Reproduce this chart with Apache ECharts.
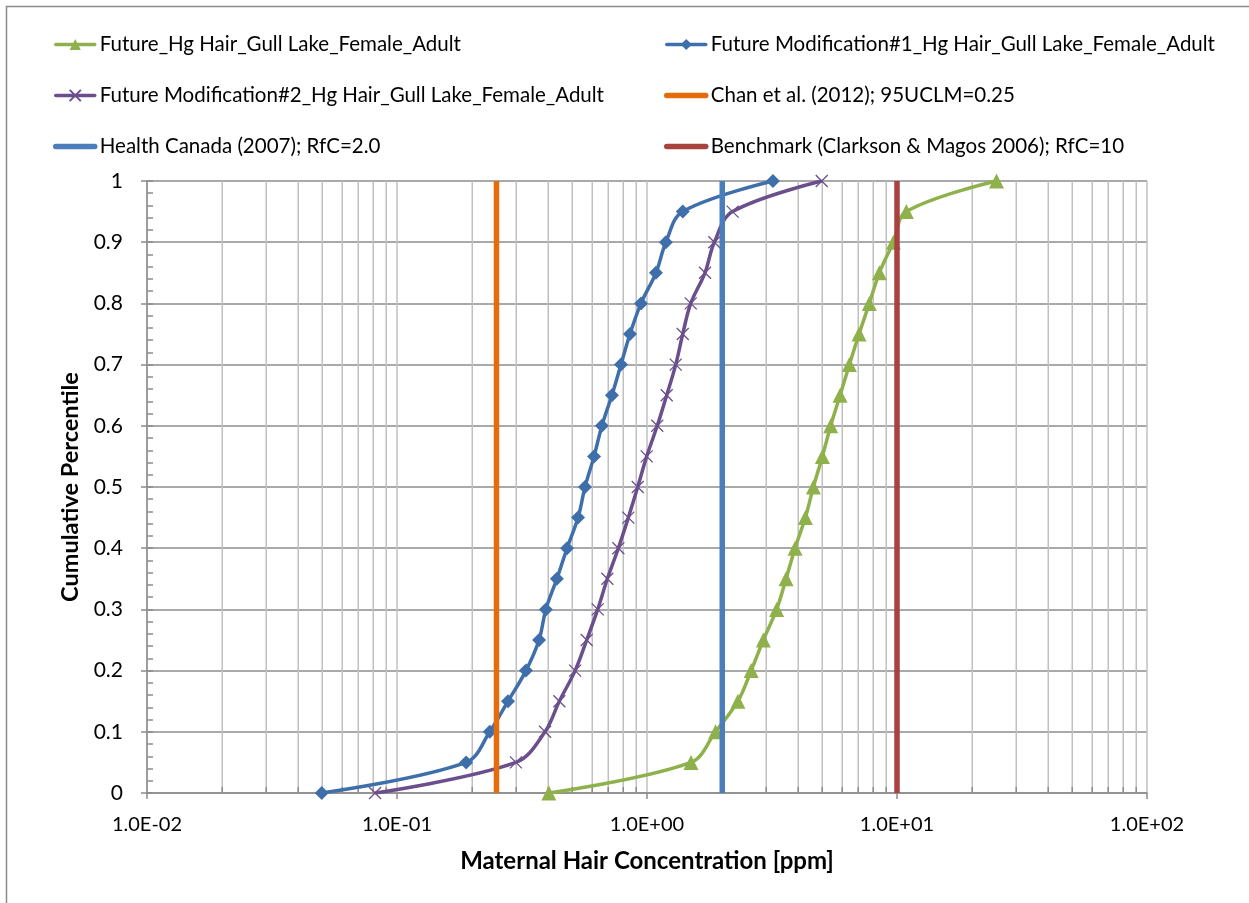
<!DOCTYPE html>
<html>
<head>
<meta charset="utf-8">
<title>Maternal Hair Concentration – Cumulative Percentile</title>
<script src="https://cdn.jsdelivr.net/npm/echarts@6/dist/echarts.min.js"></script>
<style>
  html, body { margin: 0; padding: 0; background: #ffffff; }
  #chart { width: 1249px; height: 903px; }
</style>
</head>
<body>
<div id="chart"></div>
<script>
// Cumulative percentile levels shared by the three distributions
const percentiles = [0, 0.05, 0.1, 0.15, 0.2, 0.25, 0.3, 0.35, 0.4, 0.45, 0.5,
                     0.55, 0.6, 0.65, 0.7, 0.75, 0.8, 0.85, 0.9, 0.95, 1.0];

// Hair mercury concentrations (ppm) at each percentile
const futureHg = [0.405, 1.50, 1.88, 2.31, 2.61, 2.92, 3.30, 3.60, 3.91, 4.30, 4.63,
                  5.03, 5.43, 5.92, 6.45, 7.05, 7.75, 8.50, 9.67, 10.9, 25.0];
const futureMod1 = [0.050, 0.189, 0.235, 0.278, 0.328, 0.370, 0.394, 0.436, 0.479, 0.530, 0.565,
                    0.614, 0.660, 0.724, 0.787, 0.855, 0.946, 1.086, 1.19, 1.39, 3.19];
const futureMod2 = [0.0817, 0.299, 0.391, 0.446, 0.516, 0.574, 0.635, 0.694, 0.768, 0.842, 0.918,
                    0.997, 1.099, 1.199, 1.303, 1.39, 1.496, 1.706, 1.859, 2.20, 5.00];

// Reference thresholds (ppm), drawn as vertical lines spanning 0..1
const chanUCLM = 0.25;
const healthCanadaRfC = 2.0;
const benchmarkRfC = 10;
const thresholdSpan = [0, 1];

// Log axis decades and the intermediate (2..9) grid positions
const xMin = 0.01, xMax = 100;
const xMinorTicks = [0.02, 0.03, 0.04, 0.05, 0.06, 0.07, 0.08, 0.09,
                     0.2, 0.3, 0.4, 0.5, 0.6, 0.7, 0.8, 0.9,
                     2, 3, 4, 5, 6, 7, 8, 9,
                     20, 30, 40, 50, 60, 70, 80, 90];

const names = {
  hg: 'Future_Hg Hair_Gull Lake_Female_Adult',
  mod1: 'Future Modification#1_Hg Hair_Gull Lake_Female_Adult',
  mod2: 'Future Modification#2_Hg Hair_Gull Lake_Female_Adult',
  chan: 'Chan et al. (2012); 95UCLM=0.25',
  hc: 'Health Canada (2007); RfC=2.0',
  bench: 'Benchmark (Clarkson & Magos 2006); RfC=10'
};

const colors = {
  hg: '#8fb14b',
  mod1: '#3f6fab',
  mod2: '#6b4f8c',
  chan: '#e46c0a',
  hc: '#4a7ebb',
  bench: '#a8423f'
};

const FONT = 'Lato, "Open Sans", sans-serif';

function pairs(xs, ys) { return xs.map((x, i) => [x, ys[i]]); }
function vertical(x) { return thresholdSpan.map(y => [x, y]); }

function sciLabel(v) {
  const e = Math.round(Math.log10(v));
  return '1.0E' + (e < 0 ? '-' : '+') + String(Math.abs(e)).padStart(2, '0');
}

const curveSeries = (key, data, symbol, size, extra) => Object.assign({
  name: names[key],
  type: 'line',
  data: data,
  smooth: 0.35,
  symbol: symbol,
  symbolSize: size,
  showSymbol: true,
  color: colors[key],
  lineStyle: { width: 3.5, color: colors[key] },
  itemStyle: { color: colors[key] },
  z: 3
}, extra || {});

// threshold lines carry no marker, neither in the plot nor in the legend
const thresholdSeries = (key, x) => ({
  name: names[key],
  type: 'line',
  data: vertical(x),
  symbol: 'circle',
  showSymbol: false,
  color: colors[key],
  itemStyle: { color: 'rgba(0,0,0,0)', opacity: 0 },
  lineStyle: { width: 5.5, color: colors[key], cap: 'butt' },
  z: 4
});

const chart = echarts.init(document.getElementById('chart'), null, { renderer: 'canvas' });

const legendCommon = {
  orient: 'vertical',
  itemWidth: 39,
  itemHeight: 14,
  itemGap: 30,
  padding: 0,
  lineStyle: { width: 'inherit', cap: 'round' },
  textStyle: { fontFamily: FONT, fontSize: 20.5, color: '#000' },
  selectedMode: false
};

chart.setOption({
  animation: false,
  backgroundColor: '#ffffff',
  graphic: [{
    type: 'rect',
    shape: { x: 6.5, y: 6.5, width: 1300, height: 1000 },
    style: { fill: 'none', stroke: '#8c8c8c', lineWidth: 1.5 },
    silent: true,
    z: -10
  }],
  legend: [
    Object.assign({ left: 53, top: 34, data: [names.hg, names.mod2, names.hc] }, legendCommon),
    Object.assign({ left: 664, top: 34, data: [names.mod1, names.chan, names.bench] }, legendCommon)
  ],
  grid: { left: 147, top: 181, width: 1000, height: 612, containLabel: false },
  xAxis: {
    type: 'log',
    logBase: 10,
    min: xMin,
    max: xMax,
    name: 'Maternal Hair Concentration [ppm]',
    nameLocation: 'middle',
    nameGap: 56,
    nameTextStyle: { fontFamily: FONT, fontSize: 24, fontWeight: 'bold', color: '#000' },
    axisLine: { show: true, onZero: false, lineStyle: { color: '#8c8c8c', width: 1.5 } },
    axisTick: { show: true, inside: false, length: 6, lineStyle: { color: '#8c8c8c', width: 1.5 } },
    axisLabel: { formatter: sciLabel, margin: 22, fontFamily: FONT, fontSize: 20, color: '#000' },
    splitLine: { show: true, lineStyle: { color: '#c0c0c0', width: 1.5 } },
    minorTick: { show: false },
    minorSplitLine: { show: false }
  },
  yAxis: [{
    type: 'value',
    min: 0,
    max: 1,
    interval: 0.1,
    name: 'Cumulative Percentile',
    nameLocation: 'middle',
    nameGap: 64,
    nameRotate: 90,
    nameTextStyle: { fontFamily: FONT, fontSize: 23.5, fontWeight: 'bold', color: '#000' },
    axisLine: { show: true, onZero: false, lineStyle: { color: '#8c8c8c', width: 1.5 } },
    axisTick: { show: true, inside: false, length: 6, lineStyle: { color: '#8c8c8c', width: 1.5 } },
    axisLabel: {
      margin: 24, fontFamily: FONT, fontSize: 21, color: '#000',
      formatter: v => (Math.round(v * 10) / 10).toString()
    },
    splitLine: { show: true, lineStyle: { color: '#8c8c8c', width: 1.5 } }
  }, {
    // inward minor ticks every 0.02
    type: 'value',
    min: 0,
    max: 1,
    interval: 0.02,
    position: 'left',
    axisLine: { show: false },
    axisTick: { show: true, inside: true, length: 6, lineStyle: { color: '#8c8c8c', width: 1.5 } },
    axisLabel: { show: false },
    splitLine: { show: false }
  }],
  series: [
    {
      // intermediate log grid lines with short inward ticks on the x axis
      name: 'xMinorGrid',
      type: 'custom',
      silent: true,
      z: 1,
      data: xMinorTicks.map(v => [v, 0]),
      renderItem: function (params, api) {
        const v = api.value(0);
        const bottom = api.coord([v, 0]);
        const top = api.coord([v, 1]);
        const x = Math.round(bottom[0]) + 0.25;
        return {
          type: 'group',
          children: [{
            type: 'line',
            shape: { x1: x, y1: top[1], x2: x, y2: bottom[1] },
            style: { stroke: '#c0c0c0', lineWidth: 1.5 }
          }, {
            type: 'line',
            shape: { x1: x, y1: bottom[1], x2: x, y2: bottom[1] - 6 },
            style: { stroke: '#8c8c8c', lineWidth: 1.5 }
          }]
        };
      }
    },
    curveSeries('hg', pairs(futureHg, percentiles), 'triangle', 15),
    curveSeries('mod1', pairs(futureMod1, percentiles), 'diamond', 14),
    curveSeries('mod2', pairs(futureMod2, percentiles), 'path://M0,0L10,10M10,0L0,10', 12, {
      itemStyle: { color: colors.mod2, borderColor: colors.mod2, borderWidth: 1.3 }
    }),
    thresholdSeries('chan', chanUCLM),
    thresholdSeries('hc', healthCanadaRfC),
    thresholdSeries('bench', benchmarkRfC)
  ]
});
</script>
</body>
</html>
